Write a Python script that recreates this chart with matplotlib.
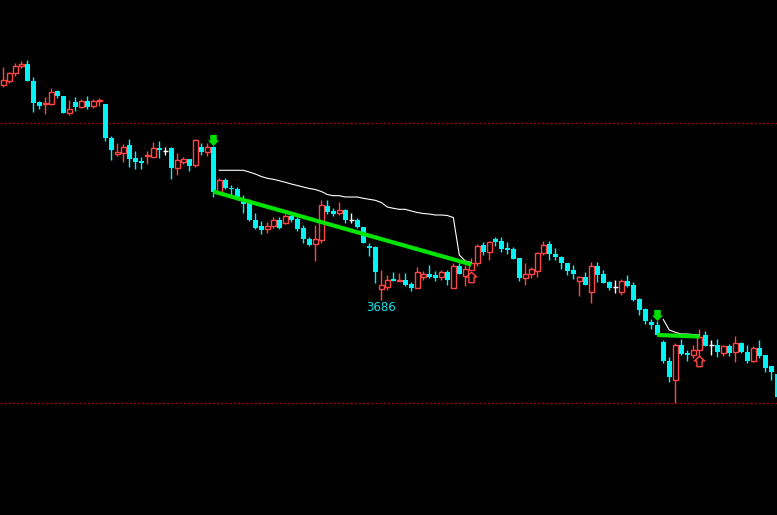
import matplotlib
matplotlib.use('Agg')
import matplotlib.pyplot as plt
from matplotlib.patches import Rectangle
from matplotlib.path import Path

opens = [3901, 3905.3, 3912.7, 3920, 3922, 3905, 3884, 3881.7, 3882, 3895,
         3890, 3873.3, 3884, 3879.3, 3885, 3880.3, 3884.7, 3882, 3848, 3832,
         3833.3, 3841, 3828, 3825, 3829.7, 3829.3, 3838, 3835.3, 3838, 3818.3,
         3824.3, 3827, 3820.7, 3839, 3834, 3838.7, 3794.3, 3806, 3798.3, 3796.7,
         3787, 3783.3, 3766, 3760, 3756.7, 3760, 3766, 3763.3, 3770, 3767,
         3758, 3747, 3742, 3746, 3780.3, 3775, 3773.3, 3776, 3766.3, 3766,
         3759, 3740, 3739, 3696.7, 3699.3, 3707, 3704.7, 3706, 3701.7, 3698.3,
         3709.3, 3712, 3711, 3709.3, 3713.7, 3697.7, 3720, 3710, 3716, 3722.7,
         3741, 3734.3, 3746.7, 3745, 3738.3, 3737, 3728.3, 3708.3, 3711.7, 3715.3,
         3732.7, 3742, 3732, 3729.3, 3722.7, 3716, 3705.3, 3708.7, 3694.3, 3720,
         3711.7, 3703.7, 3699.3, 3694.3, 3705, 3701, 3687, 3677, 3664.3, 3661,
         3644.3, 3625, 3606, 3641, 3633.3, 3631, 3636, 3651, 3641, 3641,
         3633.3, 3640, 3634.3, 3642.7, 3634.3, 3625, 3637.7, 3631, 3620, 3612]

highs = [3919, 3914.3, 3922.7, 3925, 3926, 3909, 3885, 3889.3, 3898, 3896,
         3890, 3886, 3889, 3887, 3890, 3887, 3888, 3882, 3850, 3843,
         3842, 3847, 3835, 3829.3, 3835, 3843.7, 3845, 3838.7, 3839.3, 3833,
         3829, 3827, 3846.7, 3842.7, 3842.7, 3840.3, 3807.7, 3807.7, 3801, 3799,
         3791, 3786.7, 3772.7, 3765.3, 3763.7, 3769, 3768.7, 3772, 3772.7, 3769.3,
         3761, 3749.3, 3761, 3786, 3786, 3777.7, 3783.7, 3777.3, 3772.7, 3767.7,
         3759.3, 3743.3, 3740, 3716, 3711, 3713.7, 3712.7, 3713.3, 3704.3, 3718.7,
         3715, 3721, 3715, 3716, 3716, 3722.7, 3722.7, 3721, 3728.3, 3741.7,
         3743.7, 3745, 3749.3, 3749.3, 3744.3, 3738.7, 3728.3, 3723.3, 3719.3, 3734.3,
         3745, 3745, 3738.3, 3730, 3723.3, 3720.7, 3710, 3714.3, 3723.7, 3724.3,
         3716, 3705, 3706, 3706.7, 3711, 3703.7, 3688.3, 3677.7, 3666.7, 3665,
         3646, 3629.3, 3643.3, 3646.7, 3636, 3641, 3656.7, 3655.3, 3646, 3646.7,
         3641, 3641.7, 3650, 3643.7, 3641, 3640, 3646, 3631, 3620, 3612]

lows = [3899, 3903.3, 3910.3, 3918.3, 3905.3, 3874.3, 3877, 3872, 3881, 3888.3,
        3873.3, 3871, 3875.3, 3878.3, 3877, 3878, 3880, 3845.3, 3826, 3830.3,
        3824.3, 3819.3, 3817.3, 3817.3, 3822.3, 3828.7, 3828.3, 3831, 3807.3, 3811.3,
        3822.3, 3815.3, 3819.3, 3831, 3830, 3789.3, 3794, 3797, 3790.3, 3786,
        3773.3, 3765, 3756.7, 3752.3, 3752.7, 3757.7, 3756.7, 3762, 3764, 3754.7,
        3742.7, 3740, 3725, 3742.7, 3771.7, 3770.3, 3771, 3762.7, 3763.3, 3757.7,
        3742.7, 3730.3, 3703.3, 3686, 3696, 3705.3, 3704.7, 3700.3, 3695, 3698.3,
        3706, 3708.3, 3705.3, 3706, 3701, 3697.7, 3711.7, 3700, 3716, 3720,
        3731, 3726, 3740, 3733.7, 3732, 3727, 3705, 3701, 3708.3, 3709.3,
        3731, 3726, 3726, 3716.7, 3711, 3706.7, 3690, 3701, 3683.3, 3704.3,
        3703.3, 3696, 3693.3, 3691, 3699.3, 3685, 3671, 3662, 3657, 3651,
        3623.3, 3604.3, 3583.3, 3631, 3625.3, 3627.7, 3629.3, 3640.3, 3631, 3628.7,
        3630, 3630, 3624.3, 3632.7, 3622.7, 3624.3, 3627.7, 3614.3, 3606, 3589.3]

closes = [3906, 3912.7, 3920, 3922, 3905.3, 3883.3, 3880, 3883, 3894, 3890,
          3873.3, 3876.7, 3879, 3884.7, 3879, 3884.7, 3886.3, 3848.3, 3836, 3834,
          3839, 3827, 3824.3, 3823.3, 3831, 3837.7, 3836.3, 3835.3, 3818.3, 3826,
          3827, 3820, 3845.7, 3834, 3839, 3794.3, 3805.7, 3798.3, 3796.7, 3786.7,
          3782, 3766, 3758.3, 3756, 3759.7, 3766, 3758.3, 3770, 3766, 3757,
          3747.3, 3741, 3746.7, 3781, 3773.7, 3771.7, 3776, 3766, 3766.3, 3759.3,
          3743.3, 3738.3, 3714.3, 3700.7, 3706, 3705.3, 3706.3, 3701, 3698.3, 3713.7,
          3712, 3709.3, 3708.3, 3713.7, 3706, 3720, 3711.7, 3717, 3722.7, 3740,
          3733.7, 3743.7, 3744.3, 3737, 3736, 3727, 3708.3, 3711.7, 3717, 3732.7,
          3741, 3731.7, 3729.3, 3722.7, 3715.3, 3712, 3708.7, 3701, 3720, 3711,
          3703.3, 3698.3, 3699.3, 3705, 3700.3, 3686, 3676, 3665.3, 3661, 3651,
          3625, 3609.3, 3641, 3632, 3631, 3636, 3649.3, 3640.3, 3641, 3634.3,
          3639.7, 3632.7, 3642.7, 3634.3, 3625, 3637.7, 3630, 3618.3, 3614.3, 3589.3]

# reference levels (dotted)
ref_levels = [3863, 3583]

# trend line segments (green) : (start index, start price, end index, end price)
green_lines = [(35, 3794.5, 78, 3721.5), (109, 3651, 116, 3649.5)]

# white tracking line 1 (indices 36..78) and 2 (110..116)
white1_idx = list(range(36, 79))
white1_val = [3815.7, 3815.7, 3815.7, 3815.7, 3815.7, 3814, 3812, 3809.5, 3807.7, 3806.7,
              3805.3, 3803.7, 3802, 3800.5, 3799, 3797.5, 3796.5, 3794.5, 3791.5, 3790.3,
              3790.3, 3789, 3789, 3789, 3787.7, 3786.7, 3785.7, 3783.5, 3779, 3777.7,
              3776.7, 3776.7, 3775, 3773.5, 3772.5, 3772, 3771, 3771, 3770.5, 3768.5,
              3731, 3725, 3723.5]
white2_idx = list(range(110, 117))
white2_val = [3666.5, 3656, 3653.7, 3652, 3652, 3651.5, 3651]

# signal arrows
green_arrows = [(35, 3846), (109, 3671.5)]
red_arrows = [(78, 3709), (116, 3625)]

# low label
label_idx, label_price, label_text = 63, 3678.5, "3686"

CYAN = '#00f4f4'
RED = '#ff4444'
GREEN = '#00e400'
BG = '#000000'

fig = plt.figure(figsize=(7.77, 5.15), dpi=100, facecolor=BG)
ax = fig.add_axes([0, 0, 1, 1], facecolor=BG)
ax.set_xlim(-0.55, 128.95)
ax.set_ylim(3471, 3986)
ax.axis('off')

for lv in ref_levels:
    ax.axhline(lv, color='#a00000', lw=1.0, linestyle=(0, (1.5, 1.5)), zorder=1)

for i, (o, h, l, c) in enumerate(zip(opens, highs, lows, closes)):
    if c > o:
        ax.vlines(i, l, h, color=RED, lw=1.0, zorder=2)
        ax.add_patch(Rectangle((i - 0.37, o), 0.74, c - o, facecolor=BG,
                               edgecolor=RED, lw=1.0, zorder=3))
    elif c < o:
        ax.vlines(i, l, h, color=CYAN, lw=1.0, zorder=2)
        ax.add_patch(Rectangle((i - 0.42, c), 0.84, max(o - c, 1.2), facecolor=CYAN,
                               edgecolor='none', lw=0, zorder=3))
    else:
        ax.vlines(i, l, h, color='white', lw=1.0, zorder=2)
        ax.hlines(o, i - 0.42, i + 0.42, color='white', lw=1.0, zorder=3)

ax.plot(white1_idx, white1_val, color='white', lw=0.8, zorder=4)
ax.plot(white2_idx, white2_val, color='white', lw=0.8, zorder=4)

for (x0, y0, x1, y1) in green_lines:
    ax.plot([x0, x1], [y0, y1], color=GREEN, lw=3.0, solid_capstyle='butt', zorder=5)

down_arrow = Path([(-0.3, 0.5), (0.3, 0.5), (0.3, 0.0), (0.5, 0.0), (0.0, -0.5),
                   (-0.5, 0.0), (-0.3, 0.0), (-0.3, 0.5)],
                  [Path.MOVETO] + [Path.LINETO] * 6 + [Path.CLOSEPOLY])
up_arrow = Path([(0.0, 0.5), (0.5, 0.05), (0.25, 0.05), (0.25, -0.5), (-0.25, -0.5),
                 (-0.25, 0.05), (-0.5, 0.05), (0.0, 0.5)],
                [Path.MOVETO] + [Path.LINETO] * 6 + [Path.CLOSEPOLY])

for (xi, yv) in green_arrows:
    ax.plot([xi], [yv], marker=down_arrow, markersize=8.0, color='#00dd00',
            markeredgewidth=0, linestyle='none', zorder=6)
for (xi, yv) in red_arrows:
    ax.plot([xi], [yv], marker=up_arrow, markersize=7.5, markerfacecolor='none',
            markeredgecolor=RED, markeredgewidth=1.0, linestyle='none', zorder=6)

ax.text(label_idx, label_price, label_text, color='#10e0e8', fontsize=8.5,
        ha='center', va='center', family='DejaVu Sans', zorder=6)

fig.savefig('out.png', dpi=100, facecolor=BG)
